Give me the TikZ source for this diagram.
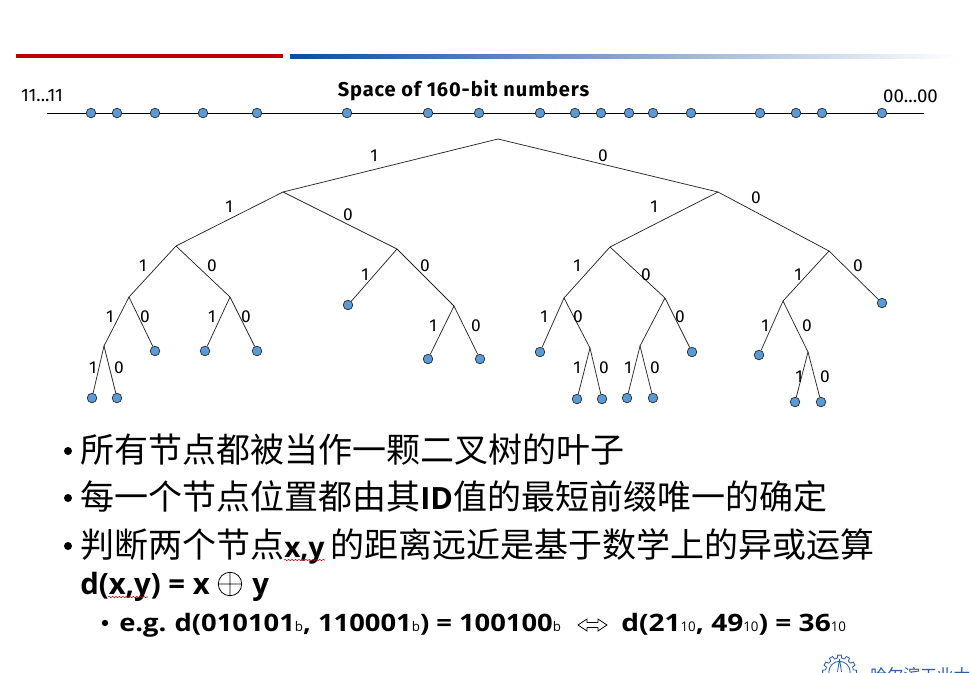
\documentclass[tikz,border=0pt]{standalone}
\usepackage{fontspec}
\setmainfont{Noto Sans CJK SC}
\newfontfamily\lat{Open Sans}
\newfontfamily\latb[FakeStretch=1.17]{Open Sans}
\newfontfamily\latc[FakeStretch=1.14]{Open Sans}
\newfontfamily\comic{Fira Sans}
\newfontfamily\comict[LetterSpace=4.5]{Fira Sans}
\usetikzlibrary{decorations.pathmorphing}
\definecolor{dotblue}{HTML}{5B9BD5}
\definecolor{barred}{HTML}{C00000}
\definecolor{barblue}{HTML}{0F4C9F}
\definecolor{logoblue}{HTML}{2A5CAA}
\tikzset{
 x=0.75pt,y=-0.75pt,
 pt/.style={circle,draw=black!85,line width=0.5pt,fill=dotblue,minimum size=7.2pt,inner sep=0pt},
 leaf/.style={pt},
 edge/.style={draw=black!85,line width=0.55pt},
 bit/.style={font=\comic\fontsize{13}{14}\selectfont,inner sep=0pt,text=black,yshift=-0.7pt},
 body/.style={anchor=base west,inner sep=0pt,font=\fontsize{25.5}{27}\selectfont,text=black},
 sub/.style={anchor=base west,inner sep=0pt,font=\latb\bfseries\fontsize{18}{19}\selectfont,text=black},
 squig/.style={draw=red!80!black,line width=0.4pt,decorate,decoration={snake,amplitude=0.5pt,segment length=2.6pt}},
}
\newcommand{\sm}[1]{{\fontsize{10}{10}\selectfont\lat\mdseries #1}}
\begin{document}
\begin{tikzpicture}
\useasboundingbox (0,0) rectangle (971,672);
\fill[white] (0,0) rectangle (971,672);
% header bars
\fill[barred] (16,54) rectangle (283,58);
\shade[left color=barblue,right color=white] (290,54) rectangle (958,58);
% number line
\coordinate (ls) at (47,113);
\coordinate (le) at (924,113);
\draw[edge,line width=0.6pt,draw=black] (ls) -- (le);
\foreach \x [count=\i] in {91,117,155,203,257,347,428,479,540,575,601,629,653,691,760,796,822,882}
  \node[pt] (d\i) at (\x,113) {};
\node[bit,font=\comic\fontsize{13.5}{14}\selectfont] (t1) at (42,95) {11...11};
\node[bit,font=\comic\fontsize{14}{14}\selectfont] (t2) at (910.5,95) {00...00};
\node[inner sep=0pt,font=\comict\bfseries\fontsize{15}{16}\selectfont,text=black] (title) at (463.5,91) {Space of 160-bit numbers};
% tree junctions
\foreach \n/\x/\y in {r/498/139, a/283/192, b/718/192, aa/176/246, ab/397/249, ba/610/247, bb/829/251,
  aaa/129/297, aab/230/297, abb/454/306, baa/564/298, bab/665/298, bba/783/301,
  aaaa/104/346, baab/590/348, baba/640/346, bbab/808/352}
  \coordinate (\n) at (\x,\y);
% leaves
\foreach \n/\x/\y in {l1/92/398, l2/117/398, l3/155/351, l4/205/351, l5/257/351, l6/348/305, l7/428/359, l8/480/359,
  l9/540/352, l10/577/399, l11/602/399, l12/627/398, l13/653/398, l14/692/352, l15/759/355, l16/795/402, l17/821/402, l18/882/303}
  \node[leaf] (\n) at (\x,\y) {};
% edges
\foreach \p/\q in {r/a,r/b,a/aa,a/ab,b/ba,b/bb,aa/aaa,aa/aab,aaa/aaaa,aaa/l3,aab/l4,aab/l5,aaaa/l1,aaaa/l2,
  ab/l6,ab/abb,abb/l7,abb/l8,ba/baa,ba/bab,baa/l9,baa/baab,baab/l10,baab/l11,bab/baba,bab/l14,baba/l12,baba/l13,
  bb/bba,bb/l18,bba/l15,bba/bbab,bbab/l16,bbab/l17}
  \draw[edge] (\p) -- (\q);
% bit labels
\foreach \x/\y/\t [count=\i] in {374/155/1, 603/155/0, 229/206/1, 348/214/0, 654/206/1, 756/197/0,
  143/265/1, 212/265/0, 365/274/1, 425/265/0, 577/265/1, 646/274/0, 798/274/1, 858/265/0,
  110/316/1, 145/316/0, 212/316/1, 246/316/0, 433/325/1, 476/325/0, 544/316/1, 578/316/0, 680/316/0, 765/325/1, 807/325/0,
  93/367/1, 119/367/0, 577/367/1, 604/367/0, 628/367/1, 655/367/0, 799/376/1, 825/376/0}
  \node[bit] (b\i) at (\x,\y) {\t};
% bullet text
\foreach \y/\n in {451/u1,498/u2,546/u3}
  \fill[black] (68,\y) circle (3pt) coordinate (\n);
\node[body] (c1) at (80,462) {所有节点都被当作一颗二叉树的叶子};
\node[body] (c2) at (80,509) {每一个节点位置都由其{\lat\bfseries\fontsize{23}{26}\selectfont ID}值的最短前缀唯一的确定};
\node[body] (c3) at (80,557) {判断两个节点{\lat\bfseries\fontsize{21}{26}\selectfont x,y}\hspace{4.5pt}的距离远近是基于数学上的异或运算};
\node[body,font=\lat\bfseries\fontsize{22}{26}\selectfont] (c4) at (80,594) {d(x,y) = x};
\coordinate (ox) at (230,584);
\draw[black,line width=0.6pt] (ox) circle (8.8pt) (218.5,584) -- (241.5,584) (230,572.5) -- (230,595.5);
\node[body,font=\lat\bfseries\fontsize{22}{26}\selectfont] (c5) at (252,594) {y};
\coordinate (s1a) at (284,560); \coordinate (s1b) at (325,560);
\draw[squig] (s1a) -- (s1b);
\coordinate (s2a) at (108,597); \coordinate (s2b) at (148,597);
\draw[squig] (s2a) -- (s2b);
% example line
\fill[black] (105,623) circle (2.4pt) coordinate (u4);
\node[sub,font=\latc\bfseries\fontsize{18}{19}\selectfont] (e1) at (119,631) {e.g.\hspace{-1pt} d(010101\sm{b}, 110001\sm{b}) = 100100\sm{b}};
\coordinate (arrL) at (578,625); \coordinate (arrR) at (607,625);
\draw[black,line width=0.6pt] (arrL) -- ++(9,-6) -- ++(0,3.5) -- ++(11,0) -- ++(0,-3.5) -- (arrR) -- ++(-9,6) -- ++(0,-3.5) -- ++(-11,0) -- ++(0,3.5) -- cycle;
\node[sub] (e2) at (621,631) {d(21\sm{10}, 49\sm{10}) = 36\sm{10}};
% logo (cut by page edge)
\coordinate (gear) at (839.5,672);
\begin{scope}[shift={(gear)}]
\foreach \a in {0,30,...,330}{
  \draw[logoblue,line width=0.6pt] (\a-9:14) -- (\a-6:17) -- (\a+6:17) -- (\a+9:14) -- (\a+21:14);
}
\draw[logoblue,line width=0.6pt] (0,0) circle (8pt);
\draw[logoblue,line width=0.6pt] (0,-13) -- (-2,0) (0,-13) -- (2,0);
\end{scope}
\node[anchor=base west,inner sep=0pt,text=logoblue,font=\fontsize{12.5}{14}\selectfont] (logo) at (870,681) {哈尔滨工业大学};
\end{tikzpicture}
\end{document}
